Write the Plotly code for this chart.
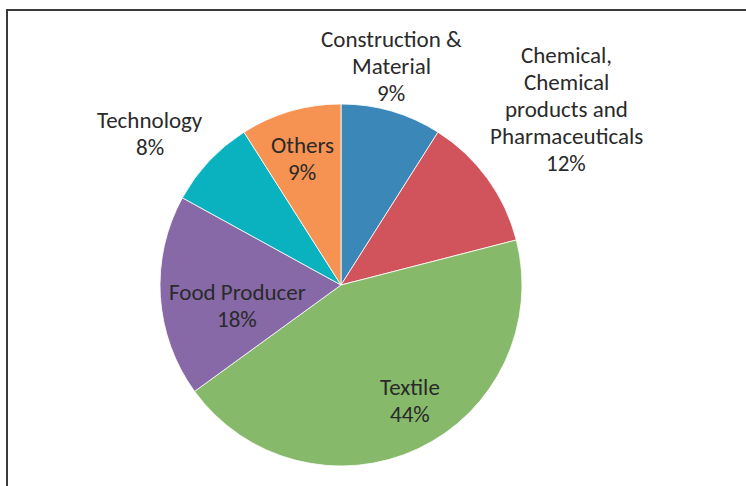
import plotly.graph_objects as go

W, H = 746, 486

sectors = ["Construction & Material", "Chemical, Chemical products and Pharmaceuticals",
           "Textile", "Food Producer", "Technology", "Others"]
label_lines = [["Construction &", "Material"],
               ["Chemical,", "Chemical", "products and", "Pharmaceuticals"],
               ["Textile"], ["Food Producer"], ["Technology"], ["Others"]]
shares = [9, 12, 44, 18, 8, 9]
colors = ["#3B88B8", "#D1535B", "#87B96A", "#8669A6", "#0AB2BF", "#F69352"]

# label layout: centre x and y of first line, in pixels
label_pos = [(391, 39), (566, 55), (410, 387), (237, 292), (150, 120), (302, 145)]
LINE = 27

cx, cy, r = 341, 285, 181

fig = go.Figure(go.Pie(
    labels=sectors, values=shares, sort=False, direction="clockwise", rotation=0,
    marker=dict(colors=colors, line=dict(color="white", width=0.8)),
    textinfo="none", hoverinfo="label+percent", showlegend=False,
    domain=dict(x=[(cx - r) / W, (cx + r) / W], y=[(H - cy - r) / H, (H - cy + r) / H]),
))

annotations = []
for lines, v, (px, py) in zip(label_lines, shares, label_pos):
    for i, line in enumerate(lines + [f"{v}%"]):
        annotations.append(dict(
            x=px / W, y=1 - (py + i * LINE) / H, xref="paper", yref="paper", text=line,
            showarrow=False, xanchor="center", yanchor="middle", align="center",
            font=dict(family="Carlito, Lato, sans-serif", size=23, color="#2a2a2a"),
        ))

fig.update_layout(
    width=W, height=H, margin=dict(l=0, r=0, t=0, b=0),
    paper_bgcolor="white", plot_bgcolor="white",
    annotations=annotations,
    shapes=[dict(type="path", xref="paper", yref="paper",
                 path=f"M {7/W} -0.01 L {7/W} {1-10/H} L 1.01 {1-10/H}",
                 line=dict(color="#3a3a3a", width=2))],
)

fig.write_html("out.html", config={"displayModeBar": False},
               post_script="document.body.style.margin='0';")
